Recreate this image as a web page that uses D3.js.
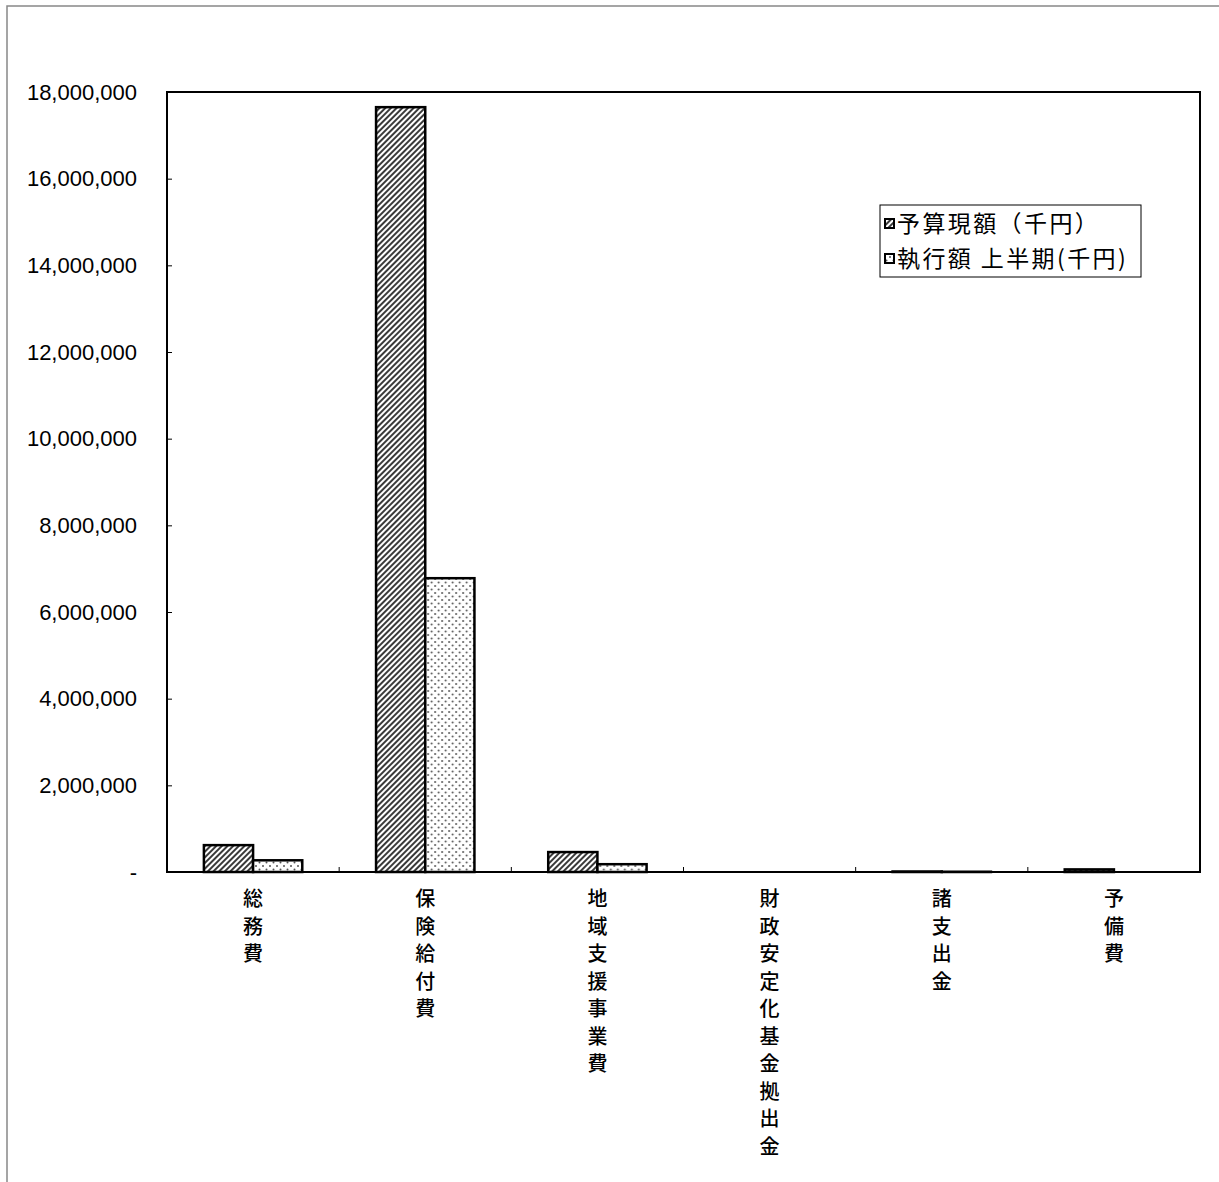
<!DOCTYPE html>
<html>
<head>
<meta charset="utf-8">
<script src="https://cdn.jsdelivr.net/npm/d3@7"></script>
<style>
  body { margin: 0; background: #fff; }
  svg { display: block; }
</style>
</head>
<body>
<svg id="chart"></svg>
<script>
const categories = ["総務費", "保険給付費", "地域支援事業費", "財政安定化基金拠出金", "諸支出金", "予備費"];
const budget = [620000, 17650000, 460000, 0, 12000, 60000];
const executed = [270000, 6780000, 180000, 0, 6000, 0];
const seriesNames = ["予算現額（千円）", "執行額 上半期(千円)"];
const yTicks = [0, 2000000, 4000000, 6000000, 8000000, 10000000, 12000000, 14000000, 16000000, 18000000];

const width = 1219, height = 1182;
const margin = {top: 92, right: 19, bottom: 310, left: 167};

const svg = d3.select("#chart").attr("width", width).attr("height", height);

// patterns
const defs = svg.append("defs");
const hatch = defs.append("pattern")
    .attr("id", "hatch")
    .attr("patternUnits", "userSpaceOnUse")
    .attr("width", 4).attr("height", 4)
    .attr("patternTransform", "rotate(45)");
hatch.append("rect").attr("width", 4).attr("height", 4).attr("fill", "#fff");
hatch.append("rect").attr("width", 2).attr("height", 4).attr("fill", "#3a3a3a");

const dots = defs.append("pattern")
    .attr("id", "dots")
    .attr("patternUnits", "userSpaceOnUse")
    .attr("width", 7).attr("height", 7);
dots.append("rect").attr("width", 7).attr("height", 7).attr("fill", "#fff");
dots.append("circle").attr("cx", 1.5).attr("cy", 1.5).attr("r", 1).attr("fill", "#555");
dots.append("circle").attr("cx", 5).attr("cy", 5).attr("r", 1).attr("fill", "#555");

// outer frame (extends past the picture on right and bottom)
svg.append("rect")
    .attr("x", 7).attr("y", 6)
    .attr("width", width + 20).attr("height", height + 20)
    .attr("fill", "none").attr("stroke", "#888").attr("stroke-width", 1.5);

const x0 = d3.scaleBand()
    .domain(categories)
    .range([margin.left, width - margin.right])
    .paddingInner(0).paddingOuter(0);

const x1 = d3.scaleBand()
    .domain([0, 1])
    .range([0, x0.bandwidth()])
    .paddingInner(0)
    .paddingOuter(0.75);

const y = d3.scaleLinear()
    .domain([0, 18000000])
    .range([height - margin.bottom, margin.top]);

// y labels
const yAxis = svg.append("g")
    .attr("transform", `translate(${margin.left},0)`)
    .call(d3.axisRight(y).tickValues(yTicks).tickSize(5)
        .tickFormat(d => d === 0 ? "-" : d3.format(",")(d)));
yAxis.select(".domain").remove();
yAxis.selectAll("line").attr("stroke", "#000").attr("stroke-width", 1);
yAxis.selectAll("text")
    .attr("x", -30)
    .attr("text-anchor", "end")
    .attr("font-family", "Liberation Sans, Arial, sans-serif")
    .attr("font-size", 22)
    .attr("fill", "#000");

// bars
const groups = svg.append("g").selectAll("g")
    .data(categories)
    .join("g")
    .attr("transform", d => `translate(${x0(d)},0)`);

groups.selectAll("rect")
    .data((d, i) => [
        {s: 0, v: budget[i]},
        {s: 1, v: executed[i]}
    ].filter(e => e.v > 0))
    .join("rect")
    .attr("x", d => x1(d.s))
    .attr("width", x1.bandwidth())
    .attr("y", d => y(d.v))
    .attr("height", d => y(0) - y(d.v))
    .attr("fill", d => d.s === 0 ? "url(#hatch)" : "url(#dots)")
    .attr("stroke", "#000")
    .attr("stroke-width", 2.5);

// x-axis category boundary ticks
const bounds = categories.slice(1).map(c => x0(c));
svg.append("g").selectAll("line")
    .data(bounds)
    .join("line")
    .attr("x1", d => d).attr("x2", d => d)
    .attr("y1", y(0)).attr("y2", y(0) - 5)
    .attr("stroke", "#000").attr("stroke-width", 1);

// plot border
svg.append("rect")
    .attr("x", margin.left).attr("y", margin.top)
    .attr("width", width - margin.right - margin.left)
    .attr("height", y(0) - margin.top)
    .attr("fill", "none").attr("stroke", "#000").attr("stroke-width", 2);

// vertical category labels
const labels = svg.append("g").selectAll("text")
    .data(categories)
    .join("text")
    .attr("x", d => x0(d) + x0.bandwidth() / 2)
    .attr("y", 900)
    .attr("text-anchor", "middle")
    .attr("font-family", "Noto Sans CJK JP, sans-serif")
    .attr("font-size", 20)
    .attr("font-weight", 500)
    .attr("fill", "#000");
labels.selectAll("tspan")
    .data(d => Array.from(d))
    .join("tspan")
    .attr("x", function() { return this.parentNode.getAttribute("x"); })
    .attr("dy", (d, i) => i === 0 ? 6 : 27.5)
    .text(d => d);

// legend
const legend = svg.append("g").attr("transform", "translate(880,205)");
legend.append("rect")
    .attr("width", 261).attr("height", 72)
    .attr("fill", "#fff").attr("stroke", "#000").attr("stroke-width", 1);
const li = legend.selectAll("g")
    .data(seriesNames)
    .join("g")
    .attr("transform", (d, i) => `translate(5,${19 + i * 35})`);
li.append("rect")
    .attr("x", 0).attr("y", -5)
    .attr("width", 9).attr("height", 9)
    .attr("fill", (d, i) => i === 0 ? "url(#hatch)" : "url(#dots)")
    .attr("stroke", "#000").attr("stroke-width", 2);
li.append("text")
    .attr("x", 12).attr("y", 8)
    .attr("font-family", "Noto Sans CJK JP, sans-serif")
    .attr("font-size", 23)
    .attr("letter-spacing", 2.4)
    .attr("fill", "#000")
    .text(d => d);
</script>
</body>
</html>
